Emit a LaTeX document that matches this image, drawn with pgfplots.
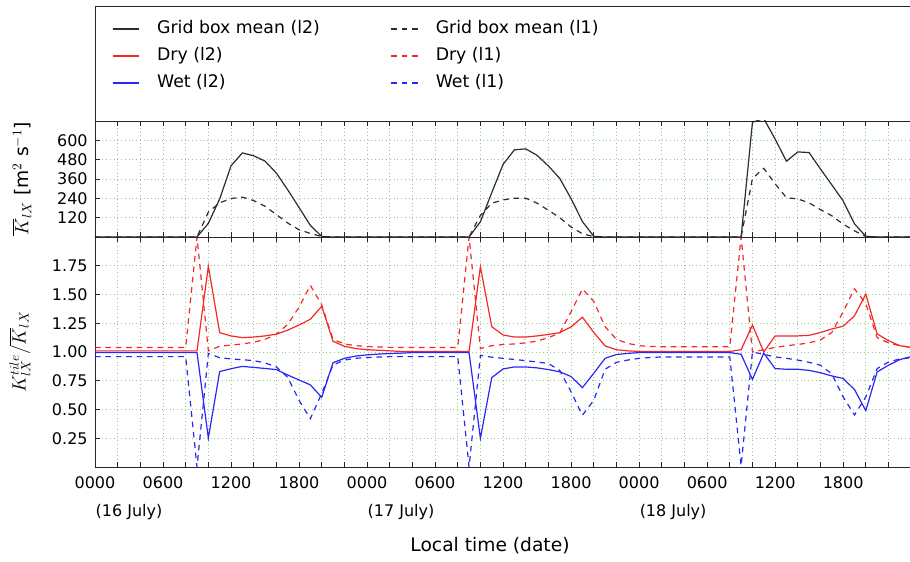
\documentclass[border=0pt]{standalone}
\usepackage{fontspec}
\setmainfont{DejaVu Sans}
\usepackage{pgfplots}
\pgfplotsset{compat=1.18}
\usepackage{pgfplotstable}

\definecolor{gridgreen}{RGB}{140,205,140}
\definecolor{dryred}{RGB}{245,40,40}
\definecolor{wetblue}{RGB}{40,40,245}
\definecolor{gboxgray}{RGB}{45,45,45}
\newcommand\fs{\fontsize{12}{14}\selectfont}
\newcommand\fl{\fontsize{13}{15.5}\selectfont}
\newcommand\fx{\fontsize{14}{17}\selectfont}

\pgfplotstableread{
h  gl2 gl1 dl2   dl1   wl2   wl1
0  0   0   1.01  1.04  0.995 0.96
1  0   0   1.01  1.04  0.995 0.96
2  0   0   1.01  1.04  0.995 0.96
3  0   0   1.01  1.04  0.995 0.96
4  0   0   1.01  1.04  0.995 0.96
5  0   0   1.01  1.04  0.995 0.96
6  0   0   1.01  1.04  0.995 0.96
7  0   0   1.01  1.04  0.995 0.96
8  0   0   1.01  1.04  0.995 0.96
9  0   0   1.01  2.0   0.995 0.0
10 85  155 1.745 1.01  0.252 0.988
11 236 212 1.168 1.05  0.83  0.95
12 442 239 1.14  1.06  0.855 0.94
13 522 247 1.125 1.07  0.875 0.933
14 504 226 1.13  1.085 0.866 0.925
15 471 191 1.14  1.11  0.857 0.905
16 397 139 1.155 1.155 0.847 0.87
17 293 87  1.19  1.24  0.80  0.78
18 183 45  1.235 1.39  0.757 0.58
19 72  22  1.285 1.58  0.714 0.42
20 3   3   1.398 1.41  0.606 0.64
21 0   0   1.093 1.11  0.907 0.887
22 0   0   1.05  1.07  0.945 0.93
23 0   0   1.03  1.055 0.965 0.945
24 0   0   1.02  1.048 0.975 0.952
25 0   0   1.015 1.044 0.982 0.956
26 0   0   1.01  1.04  0.987 0.96
27 0   0   1.005 1.04  0.99  0.96
28 0   0   1.005 1.04  0.995 0.96
29 0   0   1.005 1.04  0.995 0.96
30 0   0   1.005 1.04  0.995 0.96
31 0   0   1.005 1.04  0.995 0.96
32 0   0   1.005 1.04  0.995 0.96
33 0   0   1.005 2.0   0.995 0.0
34 94  134 1.742 1.03  0.25  0.97
35 275 210 1.22  1.055 0.777 0.955
36 451 230 1.148 1.065 0.853 0.945
37 541 241 1.13  1.07  0.87  0.935
38 547 241 1.13  1.08  0.87  0.925
39 507 210 1.14  1.095 0.862 0.913
40 441 166 1.153 1.125 0.847 0.90
41 364 120 1.168 1.165 0.828 0.84
42 238 62  1.218 1.35  0.787 0.654
43 96  20  1.303 1.548 0.69  0.45
44 4   2   1.17  1.44  0.815 0.58
45 0   0   1.053 1.22  0.945 0.85
46 0   0   1.02  1.11  0.978 0.91
47 0   0   1.01  1.075 0.988 0.93
48 0   0   1.005 1.055 0.995 0.945
49 0   0   1.005 1.048 0.995 0.952
50 0   0   1.005 1.045 0.995 0.957
51 0   0   1.005 1.045 0.995 0.957
52 0   0   1.005 1.045 0.995 0.957
53 0   0   1.005 1.045 0.995 0.957
54 0   0   1.005 1.045 0.995 0.957
55 0   0   1.005 1.045 0.995 0.957
56 0   0   1.005 1.045 0.995 0.957
57 0   0   1.02  2.0   0.98  0.01
58 712 364 1.233 1.0   0.762 1.0
59 735 426 1.0   1.02  0.99  0.98
60 608 330 1.14  1.04  0.856 0.957
61 470 244 1.14  1.055 0.85  0.945
62 528 236 1.14  1.065 0.85  0.93
63 524 212 1.145 1.08  0.84  0.91
64 422 170 1.17  1.105 0.82  0.885
65 324 132 1.20  1.17  0.792 0.81
66 224 80  1.224 1.35  0.77  0.61
67 82  38  1.314 1.55  0.674 0.452
68 4   3   1.503 1.42  0.49  0.61
69 0   0   1.158 1.125 0.827 0.856
70 0   0   1.098 1.08  0.885 0.913
71 0   0   1.055 1.055 0.934 0.94
72 0   0   1.04  1.04  0.96  0.95
}\data

\pgfplotsset{
  panel/.style={
    scale only axis, width=611.25pt, xmin=0, xmax=71.9,
    axis x line*=box, axis y line*=left,
    axis line style={-, line width=0.7pt, black!85},
    tick style={black!85, line width=0.6pt},
    major tick length=4pt, minor tick length=4pt,
    xtick={0,6,...,66}, minor xtick={0,2,...,70},
    grid=both,
    major grid style={gridgreen, line width=0.55pt, dash pattern=on 0.6pt off 2.2pt},
    minor grid style={gridgreen, line width=0.55pt, dash pattern=on 0.6pt off 2.2pt},
    tick label style={font=\fs},
    yticklabel style={xshift=-2pt},
    /pgf/number format/assume math mode=true,
    ylabel style={font=\fx, anchor=center},
  },
  solidl/.style={line width=0.9pt, solid},
  dashl/.style={line width=0.9pt, dash pattern=on 4.2pt off 3.6pt},
}

\begin{document}
\begin{tikzpicture}
% bottom panel
\begin{axis}[panel, name=bot, at={(0pt,0pt)}, anchor=south west,
  height=172.5pt, ymin=0, ymax=2,
  ytick={0.25,0.5,...,1.75},
  yticklabel style={/pgf/number format/fixed, /pgf/number format/fixed zerofill, /pgf/number format/precision=2},
  xticklabels={0000,0600,1200,1800,0000,0600,1200,1800,0000,0600,1200,1800},
  xticklabel style={yshift=-3.5pt},
  extra x ticks={3,27,51},
  extra x tick labels={(16 July),(17 July),(18 July)},
  extra x tick style={grid=none, major tick length=0pt, xticklabel style={yshift=-21pt}},
  ylabel={$K^{tile}_{lX}/\overline{K}_{lX}$},
  ylabel style={at={(axis description cs:-0.092,0.5)}},
  xlabel={Local time (date)},
  xlabel style={font=\fx, at={(axis description cs:0.4847,0)}, yshift=-59pt, anchor=center},
]
\addplot[solidl, draw=dryred] table[x=h, y=dl2] {\data};
\addplot[dashl, draw=dryred] table[x=h, y=dl1] {\data};
\addplot[solidl, draw=wetblue] table[x=h, y=wl2] {\data};
\addplot[dashl, draw=wetblue] table[x=h, y=wl1] {\data};
\end{axis}
% top panel
\begin{axis}[panel, name=top, at={(0pt,172.5pt)}, anchor=south west,
  height=87pt, ymin=0, ymax=720,
  ytick={120,240,360,480,600},
  xticklabels={},
  ylabel={$\overline{K}_{lX}$ [m$^2$ s$^{-1}$]},
  ylabel style={at={(axis description cs:-0.0896,0.5)}},
]
\addplot[solidl, draw=gboxgray] table[x=h, y=gl2] {\data};
\addplot[dashl, draw=gboxgray] table[x=h, y=gl1] {\data};
\end{axis}
% legend box
\begin{axis}[name=leg, at={(0pt,259.5pt)}, anchor=south west,
  scale only axis, width=611.25pt, height=86.25pt,
  xmin=0, xmax=1, ymin=0, ymax=1, xtick=\empty, ytick=\empty,
  axis x line*=box, axis y line*=left,
  axis line style={-, line width=0.7pt, black!85},
  legend columns=2,
  legend cell align=left,
  legend style={draw=none, fill=none, font=\fl,
    at={(axis description cs:0,1)}, anchor=north west, xshift=9.5pt, yshift=-6.5pt,
    nodes={text height=10pt, text depth=3pt, inner sep=2pt},
    row sep=3.3pt,
    /tikz/column 1/.style={column sep=11pt},
    /tikz/column 2/.style={column sep=51pt},
    /tikz/column 3/.style={column sep=11pt}},
]
\addlegendimage{legend image code/.code={\draw[line width=0.9pt, gboxgray] (0pt,0pt) -- (20pt,0pt);}}
\addlegendentry{Grid box mean (l2)}
\addlegendimage{legend image code/.code={\draw[line width=0.9pt, gboxgray, dash pattern=on 4.2pt off 3.6pt] (0pt,0pt) -- (20pt,0pt);}}
\addlegendentry{Grid box mean (l1)}
\addlegendimage{legend image code/.code={\draw[line width=0.9pt, dryred] (0pt,0pt) -- (20pt,0pt);}}
\addlegendentry{Dry (l2)}
\addlegendimage{legend image code/.code={\draw[line width=0.9pt, dryred, dash pattern=on 4.2pt off 3.6pt] (0pt,0pt) -- (20pt,0pt);}}
\addlegendentry{Dry (l1)}
\addlegendimage{legend image code/.code={\draw[line width=0.9pt, wetblue] (0pt,0pt) -- (20pt,0pt);}}
\addlegendentry{Wet (l2)}
\addlegendimage{legend image code/.code={\draw[line width=0.9pt, wetblue, dash pattern=on 4.2pt off 3.6pt] (0pt,0pt) -- (20pt,0pt);}}
\addlegendentry{Wet (l1)}
\end{axis}
\pgfresetboundingbox
\path[use as bounding box] (-71.25pt,-70.5pt) rectangle (611.25pt,350.25pt);
\end{tikzpicture}
\end{document}
